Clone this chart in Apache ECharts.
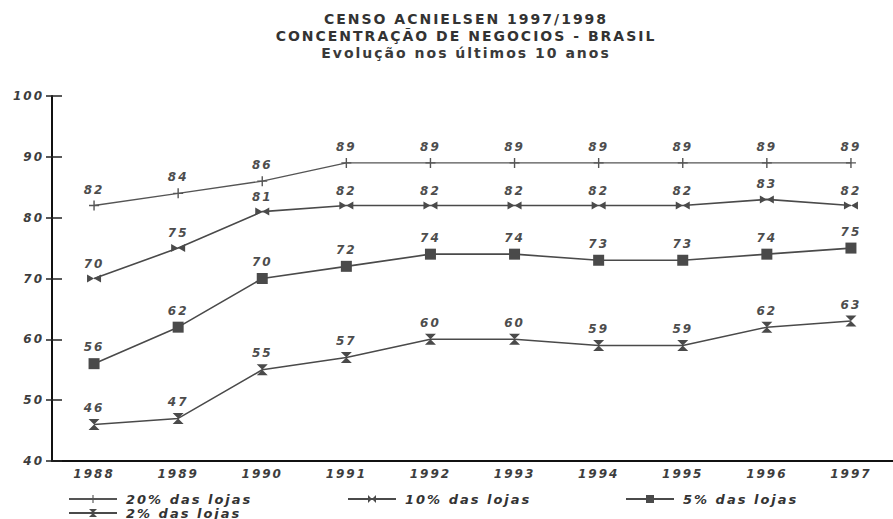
<!DOCTYPE html>
<html>
<head>
<meta charset="utf-8">
<script src="https://cdn.jsdelivr.net/npm/echarts@6/dist/echarts.min.js"></script>
<style>
  html, body { margin: 0; padding: 0; background: #ffffff; }
  #chart { width: 893px; height: 519px; }
  /* wide lettering for every text of the chart */
  #chart text { letter-spacing: 2px; }
</style>
</head>
<body>
<div id="chart"></div>
<script>
// Anos do censo
const years = ['1988', '1989', '1990', '1991', '1992', '1993', '1994', '1995', '1996', '1997'];

// Concentração (%) por faixa de lojas
const top20 = [82, 84, 86, 89, 89, 89, 89, 89, 89, 89];
const top10 = [70, 75, 81, 82, 82, 82, 82, 82, 83, 82];
const top5  = [56, 62, 70, 72, 74, 74, 73, 73, 74, 75];
const top2  = [46, 47, 55, 57, 60, 60, 59, 59, 62, 63];

const seriesNames = ['20% das lojas', '10% das lojas', '5% das lojas', '2% das lojas'];
const yTicks = [40, 50, 60, 70, 80, 90, 100];

const ink = '#4a4a4a';
const textFont = 'DejaVu Sans';

// marker shapes
const symPlus = 'path://M4.3,0 L5.7,0 L5.7,10 L4.3,10 Z M0,4.3 L10,4.3 L10,5.7 L0,5.7 Z';
const symBowtie = 'path://M0,0 L10,5 L0,10 Z M20,0 L10,5 L20,10 Z';
const symSquare = 'rect';
const symHourglass = 'path://M0,0 L10,0 L5,6 Z M0,12 L10,12 L5,6 Z';

function makeSeries(name, data, symbol, size, width, color) {
  return {
    name: name,
    type: 'line',
    data: data,
    symbol: symbol,
    symbolSize: size,
    showAllSymbol: true,
    lineStyle: { color: color, width: width },
    itemStyle: { color: color },
    label: {
      show: true,
      position: 'top',
      distance: 5,
      color: '#4d4d4d',
      fontFamily: textFont,
      fontStyle: 'italic',
      fontWeight: 'bold',
      fontSize: 12
    },
    emphasis: { disabled: true },
    animation: false
  };
}

const legendText = {
  color: '#333',
  fontFamily: textFont,
  fontStyle: 'italic',
  fontWeight: 'bold',
  fontSize: 13,
  lineHeight: 14,
  padding: [0, 0, 0, 4]
};

function legendAt(name, left, top) {
  return {
    data: [name],
    left: left,
    top: top,
    itemWidth: 48,
    itemHeight: 10,
    textStyle: legendText,
    selectedMode: false
  };
}

const axisText = {
  color: '#3d3d3d',
  fontFamily: textFont,
  fontStyle: 'italic',
  fontWeight: 'bold',
  fontSize: 12
};

const chart = echarts.init(document.getElementById('chart'), null, { renderer: 'svg' });

chart.setOption({
  backgroundColor: '#ffffff',
  animation: false,
  title: {
    text: 'CENSO ACNIELSEN 1997/1998\nCONCENTRAÇÃO DE NEGOCIOS - BRASIL',
    subtext: 'Evolução nos últimos 10 anos',
    left: 461,
    textAlign: 'center',
    top: 5,
    itemGap: 2,
    textStyle: {
      fontFamily: textFont,
      fontWeight: 'bold',
      fontSize: 14,
      lineHeight: 17,
      color: '#333'
    },
    subtextStyle: {
      fontFamily: textFont,
      fontWeight: 'bold',
      fontSize: 14,
      color: '#3a3a3a'
    }
  },
  legend: [
    legendAt(seriesNames[0], 63, 487),
    legendAt(seriesNames[1], 342, 487),
    legendAt(seriesNames[2], 620, 487),
    legendAt(seriesNames[3], 63, 501)
  ],
  grid: {
    left: 52,
    top: 96,
    bottom: 58,
    width: 850,
    containLabel: false
  },
  xAxis: {
    type: 'category',
    data: years,
    boundaryGap: true,
    axisLine: { lineStyle: { color: '#111', width: 2 } },
    axisTick: { alignWithLabel: true, length: 5, lineStyle: { color: '#222', width: 1 } },
    axisLabel: Object.assign({ margin: 7 }, axisText),
    splitLine: { show: false }
  },
  yAxis: [
    {
      type: 'value',
      min: yTicks[0],
      max: yTicks[yTicks.length - 1],
      interval: 10,
      axisLine: { show: true, lineStyle: { color: '#111', width: 2 } },
      axisTick: { show: true, inside: true, length: 10, lineStyle: { color: '#222', width: 1.5 } },
      axisLabel: Object.assign({ margin: 8 }, axisText),
      splitLine: { show: false }
    },
    {
      // outer half of the crossing tick marks
      type: 'value',
      position: 'left',
      min: yTicks[0],
      max: yTicks[yTicks.length - 1],
      interval: 10,
      axisLine: { show: false },
      axisTick: { show: true, inside: false, length: 6, lineStyle: { color: '#222', width: 1.5 } },
      axisLabel: { show: false },
      splitLine: { show: false }
    }
  ],
  series: [
    makeSeries(seriesNames[0], top20, symPlus, 10, 1.4, '#555'),
    makeSeries(seriesNames[1], top10, symBowtie, [14, 8], 1.6, ink),
    makeSeries(seriesNames[2], top5, symSquare, 11, 1.6, ink),
    makeSeries(seriesNames[3], top2, symHourglass, [11, 11], 1.5, ink)
  ]
});
</script>
</body>
</html>
